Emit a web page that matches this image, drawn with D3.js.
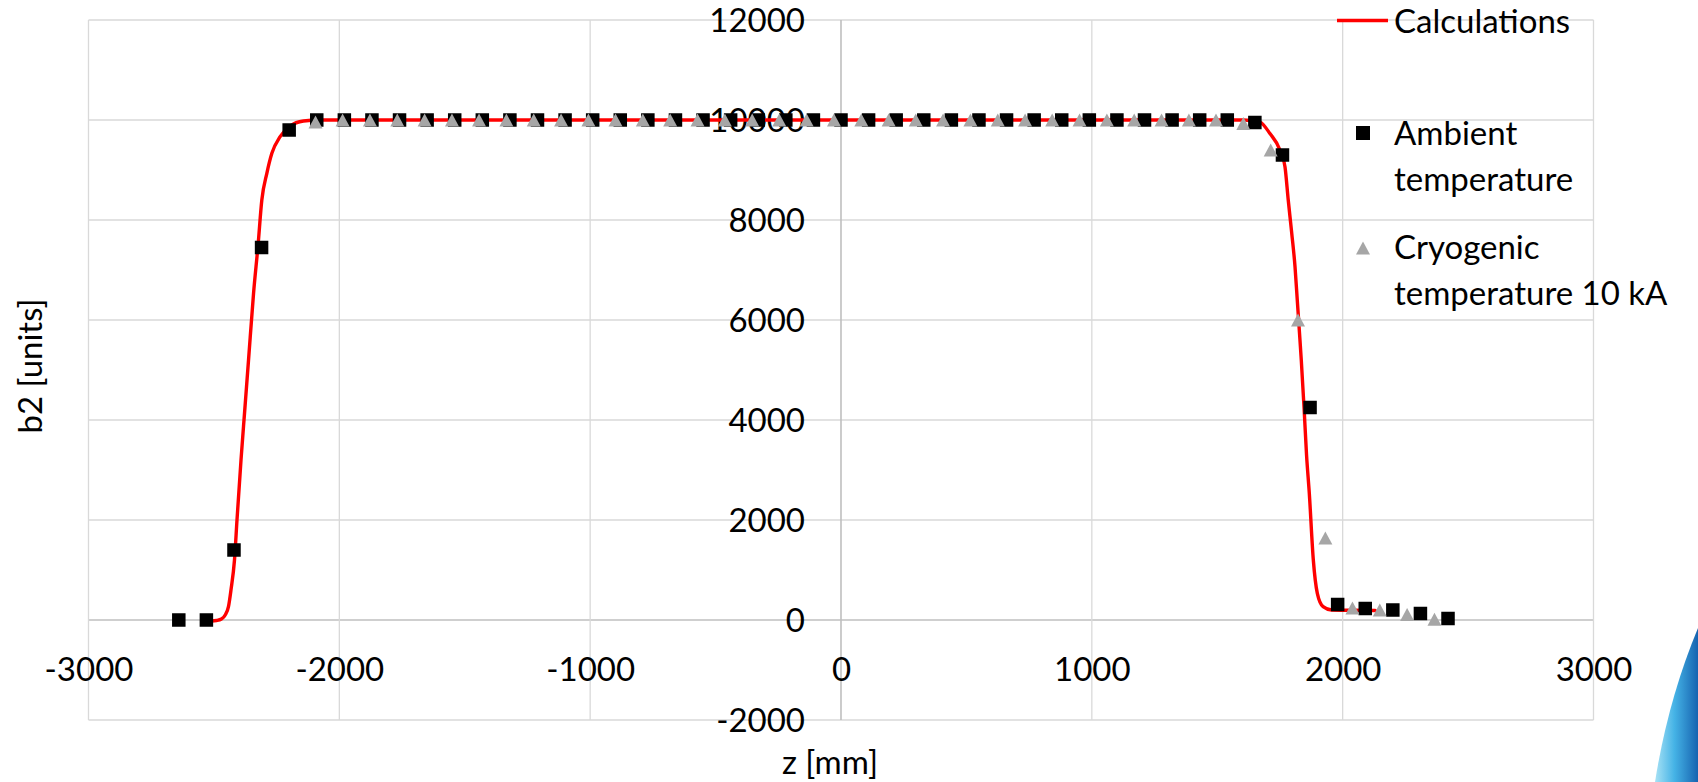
<!DOCTYPE html>
<html>
<head>
<meta charset="utf-8">
<script src="https://cdn.jsdelivr.net/npm/d3@7"></script>
<style>
  html, body { margin: 0; padding: 0; background: #ffffff; overflow: hidden; }
  svg { display: block; font-family: Lato, "Open Sans", "DejaVu Sans", sans-serif; }
</style>
</head>
<body>
<svg id="chart" width="1698" height="782"></svg>
<script>
// ---------------- data ----------------
const xTickValues = [-3000, -2000, -1000, 0, 1000, 2000, 3000];
const yTickValues = [-2000, 0, 2000, 4000, 6000, 8000, 10000, 12000];

const seriesNames = ["Calculations", "Ambient temperature", "Cryogenic temperature 10 kA"];

// Calculations (red line)
const calcZ  = [-2510, -2490, -2470, -2455, -2442, -2432, -2418, -2408, -2392, -2377, -2362, -2342, -2324, -2309, -2289, -2269, -2236, -2196, -2143, -2080, 1600, 1640, 1670, 1710, 1750, 1770, 1783, 1797, 1810, 1819, 1828, 1835, 1846, 1856, 1867, 1883, 1899, 1922, 1956, 2040, 2130];
const calcB2 = [-20, -10, 20, 100, 267, 600, 1200, 2000, 3200, 4200, 5200, 6533, 7500, 8400, 8933, 9333, 9667, 9880, 9980, 10000, 10000, 9990, 9960, 9730, 9400, 9067, 8400, 7733, 7067, 6400, 5733, 5200, 4250, 3300, 2533, 1200, 533, 267, 200, 195, 190];

// Ambient temperature (black squares)
const ambientZ  = [-2640, -2530, -2420, -2310, -2200, -2090, -1980, -1870, -1760, -1650, -1540, -1430, -1320, -1210, -1100, -990, -880, -770, -660, -550, -440, -330, -220, -110, 0, 110, 220, 330, 440, 550, 660, 770, 880, 990, 1100, 1210, 1320, 1430, 1540, 1650, 1760, 1870, 1980, 2090, 2200, 2310, 2420];
const ambientB2 = [0, 0, 1400, 7450, 9800, 10000, 10000, 10000, 10000, 10000, 10000, 10000, 10000, 10000, 10000, 10000, 10000, 10000, 10000, 10000, 10000, 10000, 10000, 10000, 10000, 10000, 10000, 10000, 10000, 10000, 10000, 10000, 10000, 10000, 10000, 10000, 10000, 10000, 10000, 9950, 9300, 4250, 310, 230, 200, 130, 30];

// Cryogenic temperature 10 kA (grey triangles)
const cryoZ  = [-2095, -1987, -1878, -1769, -1660, -1551, -1443, -1334, -1225, -1116, -1007, -899, -790, -681, -572, -463, -354, -246, -137, -28, 81, 190, 298, 407, 516, 625, 734, 842, 951, 1060, 1169, 1278, 1387, 1495, 1604, 1713, 1822, 1931, 2039, 2148, 2257, 2366];
const cryoB2 = [9960, 10000, 10000, 10000, 10000, 10000, 10000, 10000, 10000, 10000, 10000, 10000, 10000, 10000, 10000, 10000, 10000, 10000, 10000, 10000, 10000, 10000, 10000, 10000, 10000, 10000, 10000, 10000, 10000, 10000, 10000, 10000, 10000, 10000, 9930, 9400, 6000, 1640, 240, 200, 110, 15];

// ---------------- drawing ----------------
const svg = d3.select("#chart");
const W = 1698, H = 782;
const plot = { left: 88.5, right: 1593.5, top: 20, bottom: 720 };

const x = d3.scaleLinear().domain([-3000, 3000]).range([plot.left, plot.right]);
const y = d3.scaleLinear().domain([-2000, 12000]).range([plot.bottom, plot.top]);

const FONT = 33;
const gridColor = "#d9d9d9";
const axisColor = "#bfbfbf";
const fmt = d => String(d);   // plain hyphen-minus, as in the reference

// decorative slide shape (bottom-right corner)
const defs = svg.append("defs");
const grad = defs.append("linearGradient").attr("id", "deco").attr("x1", "0").attr("y1", "0").attr("x2", "1").attr("y2", "0");
grad.append("stop").attr("offset", "0%").attr("stop-color", "#a8e2f5");
grad.append("stop").attr("offset", "45%").attr("stop-color", "#45b3e6");
grad.append("stop").attr("offset", "100%").attr("stop-color", "#1663b0");
svg.append("path")
  .attr("d", `M${W},628 Q1668,700 1655,${H} L${W},${H} Z`)
  .attr("fill", "url(#deco)");

// grid lines
const grid = svg.append("g");
grid.selectAll("line.h").data(yTickValues).join("line")
  .attr("x1", plot.left).attr("x2", plot.right)
  .attr("y1", d => y(d)).attr("y2", d => y(d))
  .attr("stroke", d => d === 0 ? axisColor : gridColor)
  .attr("stroke-width", d => d === 0 ? 1.6 : 1.3);
grid.selectAll("line.v").data(xTickValues).join("line")
  .attr("y1", plot.top).attr("y2", plot.bottom)
  .attr("x1", d => x(d)).attr("x2", d => x(d))
  .attr("stroke", d => d === 0 ? axisColor : gridColor)
  .attr("stroke-width", d => d === 0 ? 1.6 : 1.3);

// axes (labels)
const xAxis = d3.axisBottom(x).tickValues(xTickValues).tickSize(0).tickFormat(fmt);
const gx = svg.append("g").attr("transform", `translate(0,${y(0)})`).call(xAxis);
gx.select(".domain").remove();
gx.selectAll("text").attr("y", 61).attr("dy", 0)
  .attr("font-size", FONT).attr("font-family", "Lato, 'Open Sans', sans-serif").attr("fill", "#000");

const yAxis = d3.axisLeft(y).tickValues(yTickValues).tickSize(0).tickFormat(fmt);
const gy = svg.append("g").attr("transform", `translate(${x(0)},0)`).call(yAxis);
gy.select(".domain").remove();
gy.selectAll("text").attr("x", -36).attr("dy", 0).attr("y", 11.8)
  .attr("font-size", FONT).attr("font-family", "Lato, 'Open Sans', sans-serif").attr("fill", "#000");

// axis titles
svg.append("text").attr("x", 830).attr("y", 774).attr("text-anchor", "middle")
  .attr("font-size", FONT).text("z [mm]");
svg.append("text").attr("transform", "translate(42,366) rotate(-90)").attr("text-anchor", "middle")
  .attr("font-size", FONT).text("b2 [units]");

// calculation line
const calcData = calcZ.map((z, i) => ({ z, v: calcB2[i] }));
const line = d3.line().x(d => x(d.z)).y(d => y(d.v)).curve(d3.curveMonotoneX);
svg.append("path").datum(calcData).attr("d", line)
  .attr("fill", "none").attr("stroke", "#ff0000").attr("stroke-width", 3.4)
  .attr("stroke-linejoin", "round").attr("stroke-linecap", "round");

// squares
const SQ = 13.5;
const ambData = ambientZ.map((z, i) => ({ z, v: ambientB2[i] }));
svg.append("g").selectAll("rect").data(ambData).join("rect")
  .attr("x", d => x(d.z) - SQ / 2).attr("y", d => y(d.v) - SQ / 2)
  .attr("width", SQ).attr("height", SQ).attr("fill", "#000000");

// triangles (bbox-centred)
const TW = 14, TH = 13;
function tri(cx, cy) {
  return `M${cx},${cy - TH / 2}L${cx + TW / 2},${cy + TH / 2}L${cx - TW / 2},${cy + TH / 2}Z`;
}
const cryoData = cryoZ.map((z, i) => ({ z, v: cryoB2[i] }));
svg.append("g").selectAll("path").data(cryoData).join("path")
  .attr("d", d => tri(x(d.z), y(d.v))).attr("fill", "#a6a6a6");

// legend
const lg = svg.append("g").attr("font-size", FONT).attr("fill", "#000");
lg.append("line").attr("x1", 1337).attr("x2", 1388).attr("y1", 20.5).attr("y2", 20.5)
  .attr("stroke", "#ff0000").attr("stroke-width", 3.4);
lg.append("text").attr("x", 1394).attr("y", 33).text(seriesNames[0]);

lg.append("rect").attr("x", 1363 - 7).attr("y", 133 - 7).attr("width", 14).attr("height", 14).attr("fill", "#000");
lg.append("text").attr("x", 1394).attr("y", 144.5).text("Ambient");
lg.append("text").attr("x", 1394).attr("y", 190.5).text("temperature");

lg.append("path").attr("d", tri(1363, 248)).attr("fill", "#a6a6a6");
lg.append("text").attr("x", 1394).attr("y", 259).text("Cryogenic");
lg.append("text").attr("x", 1394).attr("y", 304.5).text("temperature 10 kA");
</script>
</body>
</html>
